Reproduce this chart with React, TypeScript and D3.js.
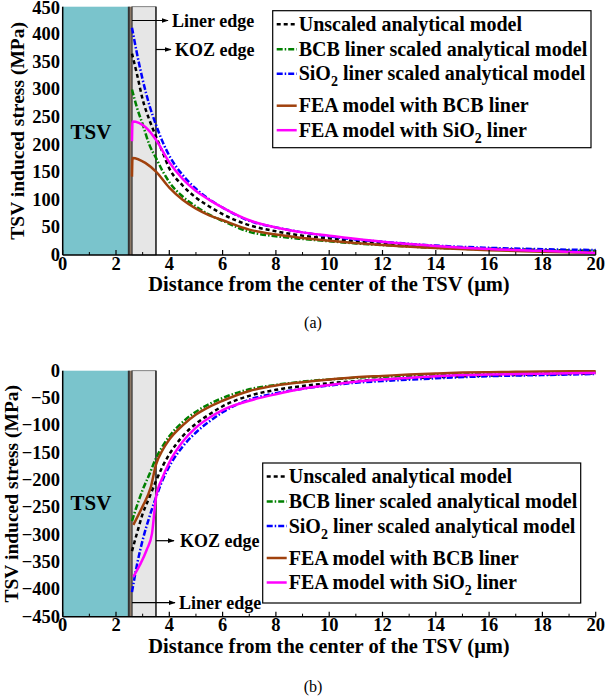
import React from "react";
import * as d3 from "d3";

// ---------- data ----------
const X_TICKS = [0, 2, 4, 6, 8, 10, 12, 14, 16, 18, 20];
const X_MINOR = [1, 3, 5, 7, 9, 11, 13, 15, 17, 19];
const Y_TICKS_TOP = [0, 50, 100, 150, 200, 250, 300, 350, 400, 450];
const Y_TICKS_BOT = [0, -50, -100, -150, -200, -250, -300, -350, -400, -450];

const X_ANALYTIC = [2.6, 2.8, 3.0, 3.25, 3.5, 3.75, 4, 4.5, 5, 5.5, 6, 7, 8, 9, 10, 11, 12, 14, 16, 18, 20];
const A_UNSCALED_TOP = [365, 325, 282, 245, 215, 186, 157, 126, 104, 88, 74, 54, 43, 35, 30, 25, 21, 15, 11.5, 9, 7.5];
const A_BCB_TOP = [300, 265, 237, 200, 176, 152, 132, 106, 88, 73, 62, 42, 34, 29, 25, 21, 18, 13, 10, 8, 7];
const A_SIO2_TOP = [412, 362, 318, 272, 236, 205, 180, 145, 120, 101, 86, 62, 50, 41, 34, 28, 24, 17, 13, 10.5, 9];

const X_FEA_TOP = [2.6, 2.62, 3.1, 3.5, 4, 4.5, 5, 5.5, 6, 7, 8, 9, 10, 12, 14, 16, 18, 20];
const FEA_BCB_TOP = [142, 176, 167, 151, 122, 100, 84, 72, 63, 46, 37, 31, 26, 18, 12.5, 8.5, 6, 3.5];
const FEA_SIO2_TOP = [206, 242, 232, 209, 168, 138, 116, 100, 86, 63, 50, 41, 35, 24, 16.5, 11, 7.5, 3.6];

const A_UNSCALED_BOT = [-330, -295, -262, -232, -202, -175, -153, -120, -97, -80, -65, -46, -35, -28, -23, -19, -16, -12, -9, -7, -5];
const A_BCB_BOT = [-275, -245, -218, -190, -160, -138, -120, -94, -75, -61, -50, -34, -26, -20, -16, -13, -11, -8, -6, -4.5, -3.5];
const A_SIO2_BOT = [-405, -352, -310, -268, -232, -200, -175, -139, -113, -93, -76, -53, -41, -33, -27, -22, -19, -14, -10, -8, -6];

const X_FEA_BCB_BOT = [2.65, 3.0, 3.3, 3.5, 3.75, 4, 4.5, 5, 5.5, 6, 7, 8, 9, 10, 11, 12, 13, 14, 15, 16, 17, 18, 20];
const FEA_BCB_BOT = [-282, -248, -214, -172, -145, -126, -100, -80, -66, -55, -37, -27, -21, -16, -12, -9.5, -7, -5, -3.5, -2.8, -2, -1.5, -0.8];
const X_FEA_SIO2_BOT = [2.65, 2.9, 3.15, 3.35, 3.5, 3.75, 4, 4.5, 5, 5.5, 6, 7, 8, 9, 10, 11, 12, 14, 16, 18, 20];
const FEA_SIO2_BOT = [-377, -355, -328, -298, -232, -195, -168, -130, -104, -86, -72, -55, -43, -33, -26, -20, -16, -10, -7, -5.5, -4];

const TSV_RADIUS = 2.5;
const LINER_EDGE = 2.6;
const KOZ_EDGE = 3.5;

const LEGEND = [
  { key: "unscaled", label: "Unscaled analytical model", color: "#000000", dash: "4,3" },
  { key: "bcb", label: "BCB liner scaled analytical model", color: "#008000", dash: "6,2,1.5,2" },
  { key: "sio2", label: "liner scaled analytical model", color: "#0000FF", dash: "6,2,1.5,2" },
  { key: "feabcb", label: "FEA model with BCB liner", color: "#A0410D", dash: "" },
  { key: "feasio2", label: "liner", color: "#FF00FF", dash: "" },
];

const FONT = "'Liberation Serif', 'Times New Roman', serif";

type Series = { x: number[]; y: number[]; color: string; dash: string; curve: any };

function Panel(props: any) {
  const x = d3.scaleLinear().domain([0, 20]).range([62.7, 595.7]);
  const y = d3.scaleLinear().domain(props.domain).range([props.y1, props.y0]);
  const top = props.y0, bot = props.y1;
  const fmt = (v: number) => (v < 0 ? "\u2212" + Math.abs(v) : String(v));
  const rows = [13.5, 38.5, 63, 95, 119.5];
  const L = props.legend;
  return (
    <g>
      {/* TSV, liner and KOZ regions */}
      <rect x={x(LINER_EDGE)} y={top} width={x(KOZ_EDGE) - x(LINER_EDGE)} height={bot - top} fill="#E6E6E6" stroke="#666" strokeWidth={0.8} />
      <line x1={x(KOZ_EDGE)} x2={x(KOZ_EDGE)} y1={top} y2={bot} stroke="#000" strokeWidth={1.2} />
      <rect x={x(0)} y={top} width={x(TSV_RADIUS) - x(0)} height={bot - top} fill="#7AC4CC" />
      <rect x={x(TSV_RADIUS)} y={top} width={x(LINER_EDGE) - x(TSV_RADIUS)} height={bot - top} fill="#8C7866" />
      <line x1={x(TSV_RADIUS) - 0.5} x2={x(TSV_RADIUS) - 0.5} y1={top} y2={bot} stroke="#333" strokeWidth={2} />
      <line x1={x(LINER_EDGE)} x2={x(LINER_EDGE)} y1={top} y2={bot} stroke="#333" strokeWidth={1} />
      <text x={91} y={props.tsvY} fontFamily={FONT} fontWeight="bold" fontSize={21} textAnchor="middle">TSV</text>

      {/* curves */}
      {props.series.map((s: Series, i: number) => {
        const pts = s.x.map((xv, j) => [x(xv), y(s.y[j])] as [number, number]);
        const path = d3.line().curve(s.curve)(pts) || "";
        return <path key={i} d={path} fill="none" stroke={s.color} strokeWidth={2.5} strokeDasharray={s.dash || undefined} />;
      })}

      {/* axes */}
      <line x1={x(0)} x2={x(20)} y1={bot} y2={bot} stroke="#000" strokeWidth={1.5} />
      <line x1={x(0)} x2={x(0)} y1={top} y2={bot} stroke="#000" strokeWidth={1.5} />
      {X_TICKS.map((t) => (
        <g key={"xt" + t}>
          <line x1={x(t)} x2={x(t)} y1={bot} y2={bot - 5} stroke="#000" strokeWidth={1.2} />
          <text x={x(t)} y={bot + 14.5} fontFamily={FONT} fontWeight="bold" fontSize={18.5} textAnchor="middle">{t}</text>
        </g>
      ))}
      {X_MINOR.map((t) => (
        <line key={"xm" + t} x1={x(t)} x2={x(t)} y1={bot} y2={bot - 3} stroke="#000" strokeWidth={1} />
      ))}
      {props.yTicks.map((t: number) => (
        <text key={"yt" + t} x={60} y={Math.max(y(t) + 6, 13.5)} fontFamily={FONT} fontWeight="bold" fontSize={18.5} textAnchor="end">{fmt(t)}</text>
      ))}
      <text x={329} y={bot + 36} fontFamily={FONT} fontWeight="bold" fontSize={20.5} textAnchor="middle">
        Distance from the center of the TSV (μm)
      </text>
      <text transform={`translate(${props.labelX},${(top + bot) / 2}) rotate(-90)`} fontFamily={FONT} fontWeight="bold" fontSize={19.5} textAnchor="middle">
        TSV induced stress (MPa)
      </text>
      <text x={313} y={props.capY} fontFamily={FONT} fontSize={16} textAnchor="middle">{props.cap}</text>

      {/* annotations */}
      <line x1={x(LINER_EDGE)} x2={props.liner.x2} y1={props.liner.y} y2={props.liner.y} stroke="#000" strokeWidth={1.2} markerEnd="url(#arrow)" />
      <text x={props.liner.tx} y={props.liner.y + 6} fontFamily={FONT} fontWeight="bold" fontSize={18}>Liner edge</text>
      <line x1={x(KOZ_EDGE)} x2={props.koz.x2} y1={props.koz.y} y2={props.koz.y} stroke="#000" strokeWidth={1.2} markerEnd="url(#arrow)" />
      <text x={props.koz.tx} y={props.koz.y + 6} fontFamily={FONT} fontWeight="bold" fontSize={18}>KOZ edge</text>

      {/* legend */}
      <rect x={L.x} y={L.y} width={L.w} height={L.h} fill="#fff" stroke="#000" strokeWidth={1.2} />
      {LEGEND.map((e, i) => (
        <g key={e.key}>
          <line x1={L.x + 4} x2={L.x + 24} y1={L.y + rows[i]} y2={L.y + rows[i]} stroke={e.color} strokeWidth={2.5} strokeDasharray={e.dash || undefined} />
          <text x={L.x + 26} y={L.y + rows[i] + 6.5} fontFamily={FONT} fontWeight="bold" fontSize={20}>
            {e.key === "sio2" ? (
              <>SiO<tspan fontSize={14} dy={6}>2</tspan><tspan dy={-6}> {e.label}</tspan></>
            ) : e.key === "feasio2" ? (
              <>FEA model with SiO<tspan fontSize={14} dy={6}>2</tspan><tspan dy={-6}> {e.label}</tspan></>
            ) : e.label}
          </text>
        </g>
      ))}
    </g>
  );
}

export default function App() {
  const topSeries: Series[] = [
    { x: X_ANALYTIC, y: A_UNSCALED_TOP, color: "#000", dash: "4,3", curve: d3.curveMonotoneX },
    { x: X_ANALYTIC, y: A_BCB_TOP, color: "#008000", dash: "6,2,1.5,2", curve: d3.curveMonotoneX },
    { x: X_ANALYTIC, y: A_SIO2_TOP, color: "#0000FF", dash: "6,2,1.5,2", curve: d3.curveMonotoneX },
    { x: X_FEA_TOP, y: FEA_BCB_TOP, color: "#A0410D", dash: "", curve: d3.curveMonotoneX },
    { x: X_FEA_TOP, y: FEA_SIO2_TOP, color: "#FF00FF", dash: "", curve: d3.curveMonotoneX },
  ];
  const botSeries: Series[] = [
    { x: X_ANALYTIC, y: A_UNSCALED_BOT, color: "#000", dash: "4,3", curve: d3.curveMonotoneX },
    { x: X_ANALYTIC, y: A_BCB_BOT, color: "#008000", dash: "6,2,1.5,2", curve: d3.curveMonotoneX },
    { x: X_ANALYTIC, y: A_SIO2_BOT, color: "#0000FF", dash: "6,2,1.5,2", curve: d3.curveMonotoneX },
    { x: X_FEA_BCB_BOT, y: FEA_BCB_BOT, color: "#A0410D", dash: "", curve: d3.curveMonotoneX },
    { x: X_FEA_SIO2_BOT, y: FEA_SIO2_BOT, color: "#FF00FF", dash: "", curve: d3.curveMonotoneX },
  ];
  return (
    <svg width={605} height={700} style={{ position: "absolute", left: 0, top: 0, background: "#fff" }}>
      <defs>
        <marker id="arrow" viewBox="0 0 10 10" refX={9} refY={5} markerWidth={7} markerHeight={7} orient="auto" markerUnits="userSpaceOnUse">
          <path d="M0,1.5 L10,5 L0,8.5 Z" fill="#000" />
        </marker>
      </defs>
      <Panel y0={6.7} y1={255} domain={[0, 450]} yTicks={Y_TICKS_TOP} series={topSeries}
        labelX={24} tsvY={139}
        legend={{ x: 272.7, y: 10.7, w: 318.3, h: 137 }}
        liner={{ y: 20.5, x2: 168, tx: 172 }} koz={{ y: 49.5, x2: 171, tx: 175 }}
        capY={328} cap="(a)" />
      <Panel y0={370.7} y1={616.7} domain={[-450, 0]} yTicks={Y_TICKS_BOT} series={botSeries}
        labelX={17.5} tsvY={510}
        legend={{ x: 262.7, y: 463, w: 318, h: 140 }}
        liner={{ y: 602.7, x2: 175, tx: 179 }} koz={{ y: 540.7, x2: 174, tx: 180 }}
        capY={692} cap="(b)" />
    </svg>
  );
}
